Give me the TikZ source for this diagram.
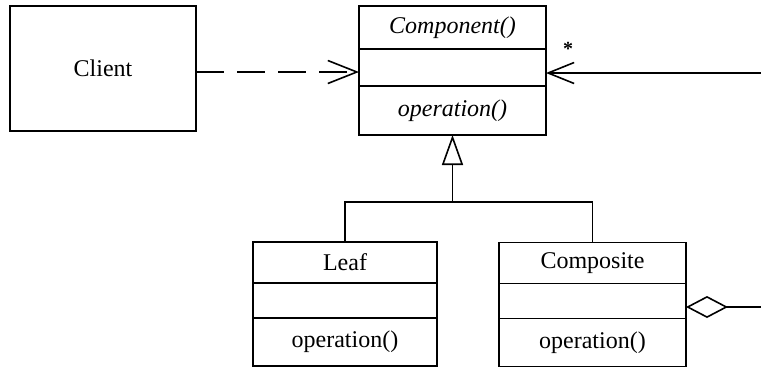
\documentclass[tikz,border=0pt]{standalone}
\usepackage{fontspec}
\setmainfont{Liberation Serif}
\usetikzlibrary{positioning,arrows.meta}
\tikzset{
  cls/.style={rectangle, draw=black, minimum width=187pt, inner sep=0pt, outer sep=0pt, text centered, font=\fontsize{24}{28}\selectfont},
  clhead/.style={cls, minimum height=41pt},
  clattr/.style={cls, minimum height=35pt},
  clop/.style={cls, minimum height=48pt},
  uses/.style={dash pattern=on 28pt off 13pt, -{Straight Barb[length=29pt,width=23pt]}},
  assoc/.style={-{Straight Barb[length=26pt,width=21pt]}},
  inherit/.style={-{Triangle[open,length=30pt,width=21pt,fill=white]}},
  aggr/.style={{Diamond[open,length=42pt,width=22pt,fill=white]}-},
  node distance=0pt
}
\begin{document}
\begin{tikzpicture}[x=1pt, y=-1pt, line width=1.6pt]
	\useasboundingbox (0,0) rectangle (761,368);
	\node[cls, minimum width=186pt, minimum height=125pt] (client) at (103,68.5) {Client};
	%
	\node[clhead, minimum height=43pt] (comp) at (452.5,27.5) {\textit{Component()}};
	\node[clattr, minimum height=37pt, below=of comp] (compattr) {};
	\node[clop, minimum height=49pt, below=of compattr] (compop) {\textit{operation()}};
	%
	\node[clhead, minimum width=184pt] (leaf) at (345,262.5) {Leaf};
	\node[clattr, minimum width=184pt, below=of leaf] (leafattr) {};
	\node[clop, minimum width=184pt, below=of leafattr] (leafop) {operation()};
	%
	\node[clhead] (compos) at (592.5,263) {Composite};
	\node[clattr, below=of compos] (composattr) {};
	\node[clop, below=of composattr] (composop) {operation()};
	%
	\node[font=\fontsize{20}{22}\selectfont\bfseries] (mult) at (568,49) {*};
	\coordinate (fork) at (452.5,202);
	\coordinate (edgetop) at (761,73);
	\coordinate (edgebot) at (761,307);
	%
	\draw[uses] ([yshift=-3.5pt]client.east) -- ([yshift=-3.5pt]client.east -| compattr.west);
	\draw[assoc] (edgetop) -- (edgetop -| compattr.east);
	\draw (leaf.north) |- (fork);
	\draw (compos.north) |- (fork);
	\draw[inherit] (fork) -- (compop.south);
	\draw[aggr] (edgebot -| composattr.east) -- (edgebot);
\end{tikzpicture}
\end{document}
